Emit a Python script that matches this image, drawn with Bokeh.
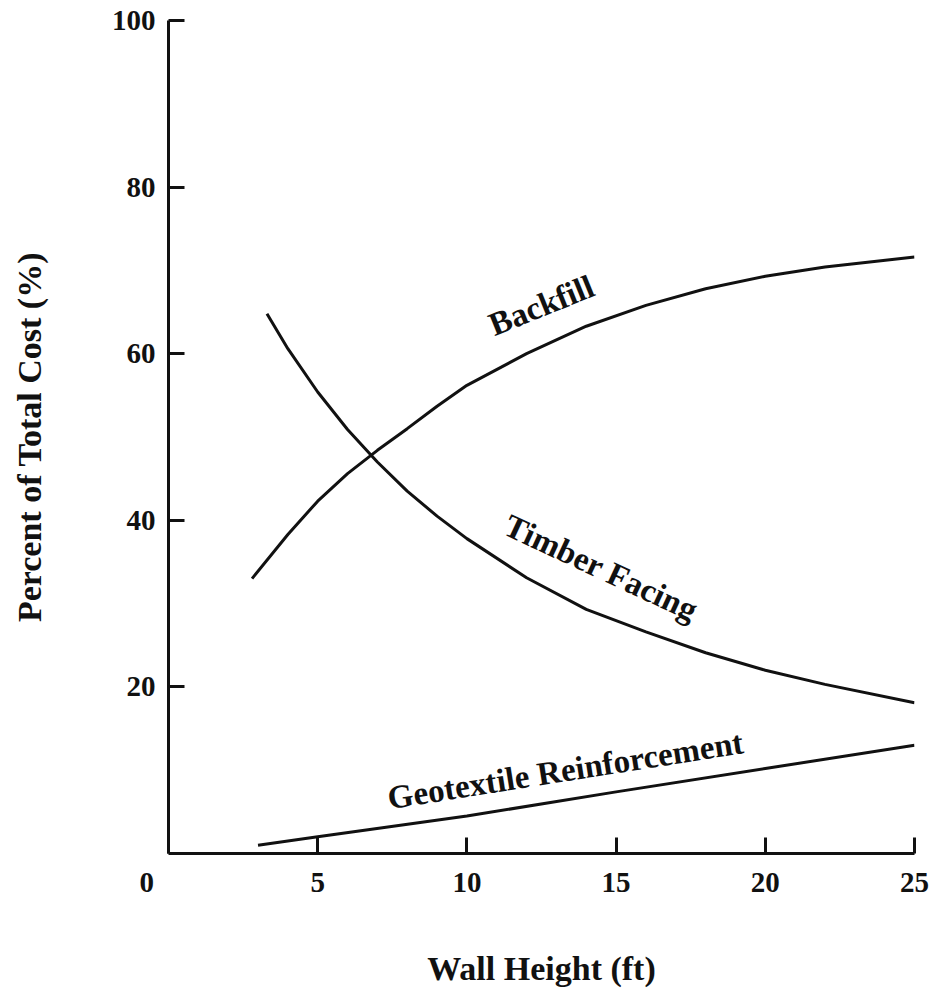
from bokeh.plotting import figure
from bokeh.models import Range1d, FixedTicker, ColumnDataSource
from bokeh.core.properties import value
from bokeh.embed import file_html
from bokeh.resources import INLINE
import math

# ---- data ----
backfill_x = [2.8, 4, 5, 6, 7, 8, 9, 10, 12, 14, 16, 18, 20, 22, 25]
backfill_y = [33.0, 38.3, 42.3, 45.6, 48.4, 51.0, 53.7, 56.2, 60.0, 63.3, 65.8, 67.8, 69.3, 70.4, 71.6]

timber_x = [3.3, 4, 5, 6, 7, 8, 9, 10, 12, 14, 16, 18, 20, 22, 25]
timber_y = [64.8, 60.6, 55.4, 50.9, 47.0, 43.5, 40.5, 37.8, 33.1, 29.3, 26.6, 24.1, 22.0, 20.3, 18.1]

geo_x = [3.0, 5, 10, 15, 20, 25]
geo_y = [1.0, 2.0, 4.5, 7.4, 10.2, 13.0]

x_ticks = [0, 5, 10, 15, 20, 25]
y_ticks = [20, 40, 60, 80, 100]

curve_labels = ["Backfill", "Timber Facing", "Geotextile Reinforcement"]
label_x = [12.5, 14.5, 13.3]
label_y = [65.8, 34.3, 10.0]
label_angle_deg = [22, -25, 9]

FONT = "Liberation Serif"
INK = "#111111"

p = figure(width=930, height=990, output_backend="svg", toolbar_location=None,
           x_range=Range1d(0, 25), y_range=Range1d(0, 100),
           min_border_left=168, min_border_right=16, min_border_top=20, min_border_bottom=137)
p.outline_line_color = None
p.grid.visible = False
p.background_fill_color = "white"
p.border_fill_color = "white"

for ax in (p.xaxis[0], p.yaxis[0]):
    ax.axis_line_width = 3
    ax.axis_line_color = INK
    ax.major_tick_line_width = 3
    ax.major_tick_line_color = INK
    ax.major_tick_in = 16
    ax.major_tick_out = 0
    ax.minor_tick_line_color = None
    ax.major_label_text_font = FONT
    ax.major_label_text_font_style = "bold"
    ax.major_label_text_font_size = "29px"
    ax.major_label_text_color = INK
    ax.axis_label_text_font = FONT
    ax.axis_label_text_font_style = "bold"
    ax.axis_label_text_font_size = "34px"
    ax.axis_label_text_color = INK

p.xaxis.ticker = FixedTicker(ticks=x_ticks)
p.yaxis.ticker = FixedTicker(ticks=y_ticks)
# the origin "0" sits left of the axes corner in the reference: pad it with no-break spaces
p.xaxis.major_label_overrides = {0: "0" + "\u00a0" * 6}
p.xaxis.major_label_standoff = 12
p.yaxis.major_label_standoff = 13
p.xaxis.axis_label = "Wall Height (ft)"
p.yaxis.axis_label = "Percent of Total Cost (%)"
p.xaxis.axis_label_standoff = 49
p.yaxis.axis_label_standoff = 61

p.line(backfill_x, backfill_y, line_width=3, line_color=INK)
p.line(timber_x, timber_y, line_width=3, line_color=INK)
p.line(geo_x, geo_y, line_width=3, line_color=INK)

src = ColumnDataSource(dict(x=label_x, y=label_y, text=curve_labels,
                            angle=[math.radians(a) for a in label_angle_deg]))
p.text(x="x", y="y", text="text", angle="angle", source=src,
       text_font=value(FONT), text_font_style="bold", text_font_size="33px",
       text_color=INK, text_align="center", text_baseline="middle")

open("out.html", "w").write(file_html(p, INLINE))
